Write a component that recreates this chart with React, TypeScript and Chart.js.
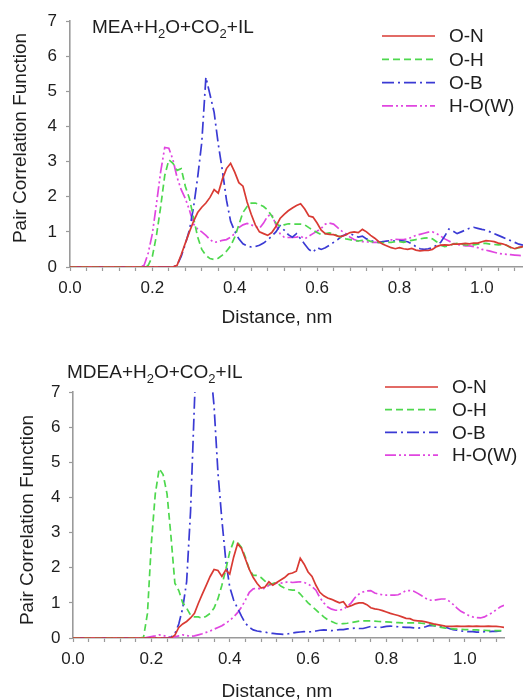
import React, { useEffect, useRef } from "react";
import { Chart, registerables } from "chart.js";

Chart.register(...registerables);
Chart.defaults.font.family = '"Liberation Sans", Arial, sans-serif';

// ---------- data ----------
const distances = [
  0.00, 0.01, 0.02, 0.03, 0.04, 0.05, 0.06, 0.07, 0.08, 0.09,
  0.10, 0.11, 0.12, 0.13, 0.14, 0.15, 0.16, 0.17, 0.18, 0.19,
  0.20, 0.21, 0.22, 0.23, 0.24, 0.25, 0.26, 0.27, 0.28, 0.29,
  0.30, 0.31, 0.32, 0.33, 0.34, 0.35, 0.36, 0.37, 0.38, 0.39,
  0.40, 0.41, 0.42, 0.43, 0.44, 0.45, 0.46, 0.47, 0.48, 0.49,
  0.50, 0.51, 0.52, 0.53, 0.54, 0.55, 0.56, 0.57, 0.58, 0.59,
  0.60, 0.61, 0.62, 0.63, 0.64, 0.65, 0.66, 0.67, 0.68, 0.69,
  0.70, 0.71, 0.72, 0.73, 0.74, 0.75, 0.76, 0.77, 0.78, 0.79,
  0.80, 0.81, 0.82, 0.83, 0.84, 0.85, 0.86, 0.87, 0.88, 0.89,
  0.90, 0.91, 0.92, 0.93, 0.94, 0.95, 0.96, 0.97, 0.98, 0.99,
  1.00, 1.01, 1.02, 1.03, 1.04, 1.05, 1.06, 1.07, 1.08, 1.09,
  1.10,
];

const seriesNames = ["O-N", "O-H", "O-B", "H-O(W)"];
const xTickValues = [0, 0.2, 0.4, 0.6, 0.8, 1.0];
const xTickLabels = ["0.0", "0.2", "0.4", "0.6", "0.8", "1.0"];
const yTickLabels = ["0", "1", "2", "3", "4", "5", "6", "7"];

// MEA + H2O + CO2 + IL
const meaON = [
  0, 0, 0, 0, 0, 0, 0, 0, 0, 0, 0, 0, 0, 0, 0, 0, 0, 0, 0, 0, 0, 0, 0, 0, 0, 0,
  0.05, 0.35, 0.68, 1.0, 1.3, 1.55, 1.7, 1.82, 1.98, 2.2,
  2.1, 2.5, 2.8, 2.95, 2.7, 2.4, 2.3, 1.85, 1.5, 1.2,
  1.0, 0.95, 0.9, 0.98, 1.15, 1.38, 1.5, 1.6, 1.68, 1.75,
  1.8, 1.65, 1.45, 1.42, 1.25, 1.05, 0.95, 0.93, 0.92, 0.88,
  0.87, 0.92, 0.98, 1.0, 0.98, 1.07, 1.0, 0.9, 0.82, 0.72,
  0.65, 0.6, 0.55, 0.52, 0.55, 0.52, 0.5, 0.53, 0.48, 0.46,
  0.47, 0.47, 0.5, 0.58, 0.62, 0.63, 0.62, 0.65, 0.65, 0.66,
  0.67, 0.66, 0.68, 0.68, 0.72, 0.75, 0.74, 0.72, 0.68, 0.66,
  0.62, 0.56, 0.52, 0.56, 0.58,
];
const meaOH = [
  0, 0, 0, 0, 0, 0, 0, 0, 0, 0, 0, 0, 0, 0, 0, 0, 0, 0, 0,
  0.05, 0.3, 0.9, 1.7, 2.6, 3.05, 2.95, 2.75, 2.8, 2.3,
  1.95, 1.4, 0.85, 0.5, 0.33, 0.24, 0.21, 0.25, 0.34, 0.45,
  0.6, 0.85, 1.2, 1.55, 1.72, 1.82, 1.82, 1.78, 1.72, 1.62,
  1.45, 1.25, 1.15, 1.2, 1.23, 1.22, 1.22, 1.22, 1.2, 1.12,
  1.05, 0.98, 0.92, 0.95, 0.97, 0.95, 0.88, 0.83, 0.8, 0.78,
  0.75, 0.74, 0.76, 0.78, 0.73, 0.7, 0.7, 0.69, 0.7, 0.7,
  0.72, 0.72, 0.7, 0.74, 0.76, 0.78, 0.8, 0.82, 0.83, 0.8,
  0.72, 0.62, 0.58, 0.6, 0.65, 0.67, 0.65, 0.63, 0.62, 0.63,
  0.65, 0.67, 0.67, 0.65, 0.64, 0.63, 0.64, 0.62, 0.55, 0.52,
  0.55, 0.57,
];
const meaOB = [
  0, 0, 0, 0, 0, 0, 0, 0, 0, 0, 0, 0, 0, 0, 0, 0, 0, 0, 0, 0, 0, 0, 0, 0, 0, 0,
  0.05, 0.3, 0.65, 1.05, 1.7, 2.55, 3.55, 5.4, 4.9, 4.4,
  3.5, 2.75, 1.9, 1.3, 1.02, 0.8, 0.66, 0.6, 0.57, 0.58,
  0.62, 0.68, 0.77, 0.88, 1.0, 1.18, 1.05, 0.92, 0.85, 0.95,
  0.8, 0.65, 0.5, 0.42, 0.55, 0.5, 0.55, 0.62, 0.7, 0.78,
  0.88, 0.92, 0.95, 0.9, 0.85, 0.88, 0.8, 0.75, 0.72, 0.7,
  0.72, 0.74, 0.75, 0.74, 0.75, 0.74, 0.72, 0.66, 0.58, 0.52,
  0.5, 0.52, 0.55, 0.62, 0.7, 0.88, 1.08, 1.02, 0.95, 1.0,
  1.05, 1.1, 1.13, 1.1, 1.07, 1.05, 1.0, 0.95, 0.9, 0.85,
  0.8, 0.75, 0.7, 0.65, 0.62,
];
const meaHOW = [
  0, 0, 0, 0, 0, 0, 0, 0, 0, 0, 0, 0, 0, 0, 0, 0, 0, 0,
  0.05, 0.4, 0.95, 1.8, 2.7, 3.4, 3.38, 3.05, 2.55, 2.2,
  1.95, 1.62, 1.22, 1.08, 1.0, 0.9, 0.78, 0.7, 0.72, 0.76,
  0.78, 0.85, 0.95, 1.12, 1.2, 1.24, 1.2, 1.15, 1.1, 1.25,
  1.45, 1.5, 1.2, 0.95, 0.85, 0.84, 0.84, 0.85, 0.88, 0.8,
  0.88, 0.95, 1.02, 1.1, 1.22, 1.25, 1.22, 1.12, 1.02, 0.95,
  0.85, 0.78, 0.74, 0.72, 0.72, 0.7, 0.7, 0.7, 0.72, 0.74,
  0.77, 0.79, 0.78, 0.78, 0.8, 0.85, 0.9, 0.93, 0.96, 0.99,
  1.0, 0.95, 0.88, 0.8, 0.74, 0.68, 0.64, 0.62, 0.6, 0.6,
  0.58, 0.55, 0.5, 0.48, 0.45, 0.42, 0.39, 0.37, 0.36, 0.35,
  0.34, 0.33, 0.32,
];

// MDEA + H2O + CO2 + IL
const mdeaON = [
  0, 0, 0, 0, 0, 0, 0, 0, 0, 0, 0, 0, 0, 0, 0, 0, 0, 0, 0, 0, 0, 0, 0, 0, 0, 0,
  0.08, 0.3, 0.4, 0.47, 0.57, 0.7, 0.99, 1.25, 1.5, 1.75,
  1.95, 1.92, 1.75, 1.94, 1.82, 2.3, 2.68, 2.55, 2.25, 1.95,
  1.72, 1.55, 1.42, 1.45, 1.6, 1.5, 1.58, 1.65, 1.72, 1.82,
  1.85, 1.9, 2.27, 2.1, 1.88, 1.75, 1.5, 1.3, 1.2, 1.14,
  1.1, 1.05, 1.0, 1.03, 0.88, 0.92, 0.97, 1.0, 1.0, 0.95,
  0.86, 0.83, 0.81, 0.78, 0.74, 0.7, 0.67, 0.64, 0.6, 0.56,
  0.55, 0.5, 0.49, 0.48, 0.46, 0.43, 0.4, 0.38, 0.36, 0.34,
  0.33, 0.33, 0.34, 0.33, 0.33, 0.34, 0.33, 0.34, 0.33, 0.33,
  0.34, 0.33, 0.33, 0.32, 0.3,
];
const mdeaOH = [
  0, 0, 0, 0, 0, 0, 0, 0, 0, 0, 0, 0, 0, 0, 0, 0, 0, 0,
  0.02, 0.7, 2.7, 4.1, 4.82, 4.65, 4.1, 2.9, 1.56, 1.35,
  1.0, 0.85, 0.65, 0.6, 0.6, 0.56, 0.62, 0.7, 0.85, 1.12,
  1.5, 1.95, 2.45, 2.75, 2.72, 2.58, 2.3, 1.95, 1.78, 1.78,
  1.72, 1.62, 1.52, 1.55, 1.58, 1.48, 1.42, 1.38, 1.36, 1.36,
  1.25, 1.12, 1.0, 0.9, 0.8, 0.7, 0.6, 0.52, 0.47, 0.42,
  0.4, 0.41, 0.42, 0.44, 0.46, 0.48, 0.49, 0.49, 0.49, 0.48,
  0.47, 0.46, 0.46, 0.45, 0.44, 0.44, 0.43, 0.43, 0.43, 0.43,
  0.43, 0.42, 0.41, 0.4, 0.36, 0.32, 0.3, 0.28, 0.27, 0.26,
  0.25, 0.25, 0.24, 0.24, 0.23, 0.23, 0.22, 0.22, 0.21, 0.21,
  0.21, 0.21, 0.21,
];
const mdeaOB = [
  0, 0, 0, 0, 0, 0, 0, 0, 0, 0, 0, 0, 0, 0, 0, 0, 0, 0, 0, 0, 0, 0, 0, 0, 0,
  0.02, 0.12, 0.4, 0.85, 1.6, 3.6, 6.7, 9.5, 10.5, 9.8,
  7.8, 6.6, 4.7, 3.36, 2.2, 1.45, 1.08, 0.85, 0.62, 0.42,
  0.3, 0.23, 0.2, 0.18, 0.17, 0.14, 0.13, 0.12, 0.11, 0.1,
  0.12, 0.14, 0.16, 0.17, 0.18, 0.17, 0.18, 0.2, 0.22, 0.23,
  0.22, 0.21, 0.22, 0.24, 0.24, 0.26, 0.27, 0.28, 0.27, 0.27,
  0.3, 0.33, 0.31, 0.3, 0.31, 0.33, 0.34, 0.33, 0.32, 0.31,
  0.3, 0.3, 0.29, 0.28, 0.29, 0.32, 0.36, 0.35, 0.34, 0.33,
  0.31, 0.27, 0.24, 0.22, 0.2, 0.19, 0.18, 0.18, 0.17, 0.17,
  0.18, 0.18, 0.19, 0.19, 0.2, 0.21,
];
const mdeaHOW = [
  0, 0, 0, 0, 0, 0, 0, 0, 0, 0, 0, 0, 0, 0, 0, 0, 0, 0, 0,
  0.02, 0.04, 0.06, 0.09, 0.07, 0.04, 0.02, 0.03, 0.06, 0.09,
  0.07, 0.05, 0.06, 0.09, 0.12, 0.16, 0.2, 0.25, 0.3, 0.35,
  0.42, 0.5, 0.6, 0.72, 0.88, 1.08, 1.3, 1.4, 1.42, 1.39,
  1.42, 1.5, 1.54, 1.56, 1.56, 1.58, 1.6, 1.58, 1.59, 1.6,
  1.58, 1.54, 1.46, 1.36, 1.15, 1.0, 0.88, 0.82, 0.79, 0.79,
  0.82, 0.9, 1.0, 1.15, 1.25, 1.31, 1.34, 1.35, 1.28, 1.25,
  1.23, 1.22, 1.22, 1.22, 1.23, 1.28, 1.35, 1.35, 1.33, 1.27,
  1.2, 1.13, 1.08, 1.07, 1.09, 1.11, 1.11, 1.05, 0.96, 0.85,
  0.76, 0.7, 0.64, 0.6, 0.58, 0.57, 0.6, 0.66, 0.72, 0.8,
  0.88, 0.93,
];

// ---------- styles ----------
const lineStyles = [
  { color: "#d93a33", dash: [] as number[] },
  { color: "#4ed84e", dash: [7, 4] },
  { color: "#3a3ad4", dash: [12, 4, 2, 4] },
  { color: "#e046e0", dash: [11, 3, 2, 3, 2, 3] },
];
const FONT = '"Liberation Sans", Arial, sans-serif';
const TEXT = "#1e1e1e";
const AXIS = "#9a9a9a";

const annotPlugin = {
  id: "annot",
  afterDraw(chart: any, _args: any, o: any) {
    const ctx = chart.ctx as CanvasRenderingContext2D;
    ctx.save();
    ctx.fillStyle = TEXT;
    // title with subscripts
    let x = o.titleX;
    ctx.textAlign = "left";
    ctx.textBaseline = "alphabetic";
    for (const [txt, sub] of o.titleParts as [string, boolean][]) {
      ctx.font = sub ? `13px ${FONT}` : `19px ${FONT}`;
      ctx.fillText(txt, x, sub ? o.titleY + 5 : o.titleY);
      x += ctx.measureText(txt).width;
    }
    // legend
    chart.data.datasets.forEach((ds: any, i: number) => {
      const ly = o.legendY + i * o.legendGap;
      ctx.strokeStyle = ds.borderColor;
      ctx.lineWidth = ds.borderWidth;
      ctx.setLineDash(ds.borderDash || []);
      ctx.beginPath();
      ctx.moveTo(o.legendX, ly);
      ctx.lineTo(o.legendX + 53, ly);
      ctx.stroke();
      ctx.setLineDash([]);
      ctx.font = `19px ${FONT}`;
      ctx.textBaseline = "middle";
      ctx.fillText(ds.label, o.legendX + 67, ly + 1);
    });
    // axis titles
    ctx.font = `19px ${FONT}`;
    ctx.textAlign = "center";
    ctx.textBaseline = "middle";
    ctx.fillText("Distance, nm", o.xTitleX, o.xTitleY);
    ctx.translate(o.yTitleX, o.yTitleY);
    ctx.rotate(-Math.PI / 2);
    ctx.fillText("Pair Correlation Function", 0, 0);
    ctx.restore();
  },
};

type Area = { left: number; top: number; padRight: number; xAxisH: number; yPad: number };

function PcfChart(props: {
  series: number[][];
  top: number;
  height: number;
  area: Area;
  annot: any;
}) {
  const ref = useRef<HTMLCanvasElement>(null);
  useEffect(() => {
    const { series, area, annot } = props;
    const chart = new Chart(ref.current as HTMLCanvasElement, {
      type: "line",
      data: {
        datasets: series.map((vals, i) => ({
          label: seriesNames[i],
          data: distances.map((d, j) => ({ x: d, y: vals[j] })),
          borderColor: lineStyles[i].color,
          borderDash: lineStyles[i].dash,
          borderWidth: 1.7,
          pointRadius: 0,
          fill: false,
          tension: 0,
        })),
      },
      options: {
        responsive: false,
        maintainAspectRatio: false,
        animation: false,
        layout: { padding: { left: 0, right: area.padRight, top: area.top, bottom: 0 } },
        plugins: {
          legend: { display: false },
          tooltip: { enabled: false },
          annot,
        } as any,
        scales: {
          x: {
            type: "linear",
            min: 0,
            max: 1.1,
            afterFit: (s: any) => {
              s.height = area.xAxisH;
            },
            ticks: {
              stepSize: 0.04,
              includeBounds: false,
              autoSkip: false,
              maxRotation: 0,
              padding: 7,
              color: TEXT,
              font: { size: 17, family: FONT },
              callback: (v: any) => {
                const k = xTickValues.findIndex((m) => Math.abs(m - Number(v)) < 1e-6);
                return k >= 0 ? xTickLabels[k] : "";
              },
            },
            grid: { drawOnChartArea: false, tickLength: 4, color: AXIS, tickWidth: 1.2 },
            border: { display: true, color: AXIS, width: 1.6 },
          },
          y: {
            type: "linear",
            min: 0,
            max: 7,
            afterFit: (s: any) => {
              s.width = area.left;
            },
            ticks: {
              stepSize: 1,
              padding: area.yPad,
              color: TEXT,
              font: { size: 17, family: FONT },
              callback: (v: any) => yTickLabels[Math.round(Number(v))] ?? "",
            },
            grid: { drawOnChartArea: false, tickLength: 4, color: AXIS, tickWidth: 1.2 },
            border: { display: true, color: AXIS, width: 1.6 },
          },
        },
      } as any,
      plugins: [annotPlugin as any],
    });
    return () => chart.destroy();
  }, []);
  return (
    <canvas
      ref={ref}
      width={523}
      height={props.height}
      style={{ position: "absolute", left: 0, top: props.top, width: 523, height: props.height }}
    />
  );
}

export default function App() {
  return (
    <div style={{ position: "absolute", left: 0, top: 0, width: 523, height: 700, background: "#fff" }}>
      <PcfChart
        series={[meaON, meaOH, meaOB, meaHOW]}
        top={0}
        height={335}
        area={{ left: 70, top: 21, padRight: 0, xAxisH: 68, yPad: 9 }}
        annot={{
          titleParts: [["MEA+H", false], ["2", true], ["O+CO", false], ["2", true], ["+IL", false]],
          titleX: 92,
          titleY: 33,
          legendX: 382,
          legendY: 36,
          legendGap: 23.3,
          xTitleX: 277,
          xTitleY: 318,
          yTitleX: 21,
          yTitleY: 138,
        }}
      />
      <PcfChart
        series={[mdeaON, mdeaOH, mdeaOB, mdeaHOW]}
        top={340}
        height={360}
        area={{ left: 73, top: 52, padRight: 19, xAxisH: 62, yPad: 8.5 }}
        annot={{
          titleParts: [["MDEA+H", false], ["2", true], ["O+CO", false], ["2", true], ["+IL", false]],
          titleX: 67,
          titleY: 38,
          legendX: 385,
          legendY: 47,
          legendGap: 22.7,
          xTitleX: 277,
          xTitleY: 352,
          yTitleX: 27.5,
          yTitleY: 180,
        }}
      />
    </div>
  );
}
